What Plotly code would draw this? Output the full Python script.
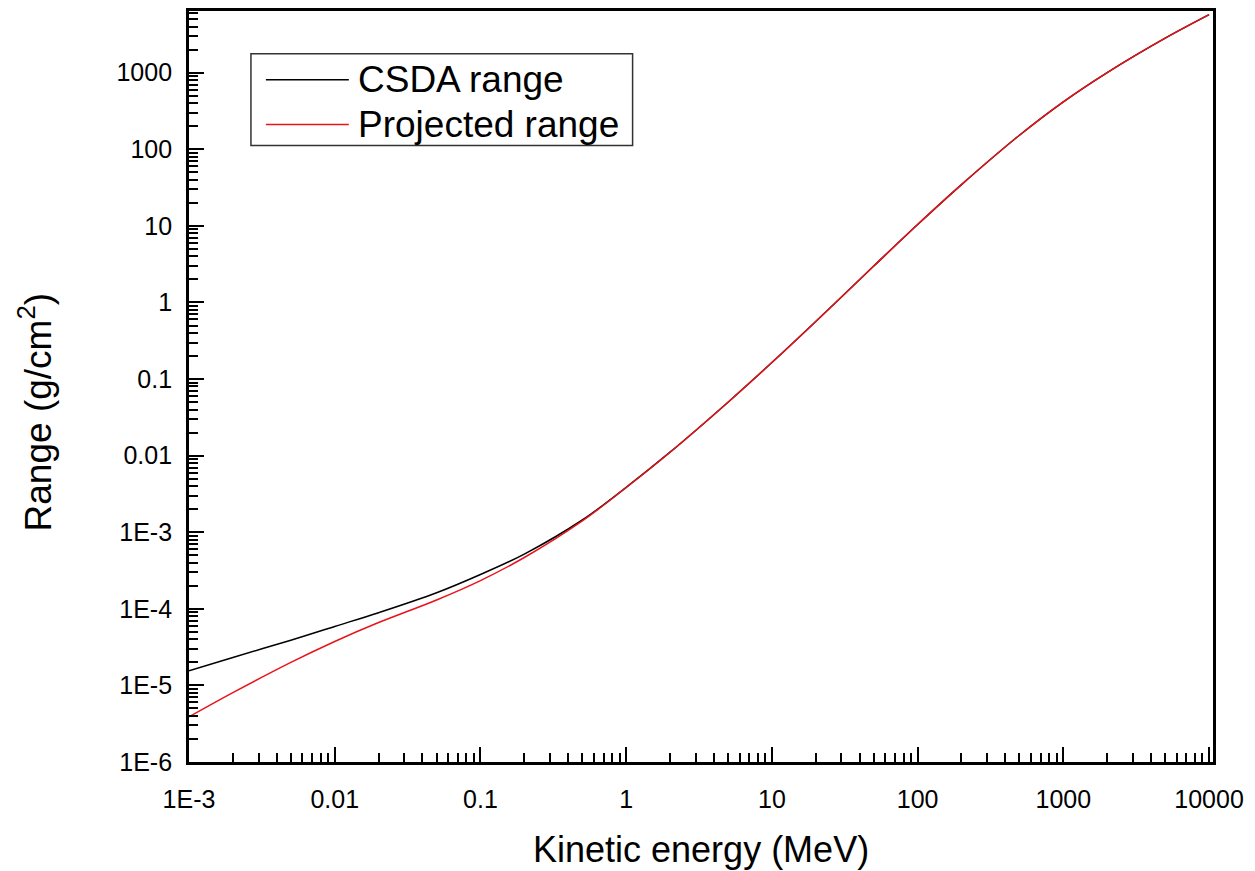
import plotly.graph_objects as go

# Kinetic energy (MeV)
energy = [0.001, 0.002, 0.005, 0.01, 0.02, 0.05, 0.1, 0.2, 0.5,
          1, 2, 5, 10, 20, 50, 100, 200, 500, 1000, 2000, 5000, 10000]

# CSDA range (g/cm^2)
csda_range = [1.55e-5, 2.32e-5, 3.89e-5, 5.89e-5, 8.91e-5, 1.622e-4, 2.81e-4, 5.19e-4, 1.445e-3,
              3.86e-3, 0.0111, 0.0499, 0.1645, 0.565, 2.99, 10.42, 34.6, 152.8, 417, 1005, 2831, 5741]

# Projected range (g/cm^2)
projected_range = [3.89e-6, 8.05e-6, 2.00e-5, 3.75e-5, 6.62e-5, 1.306e-4, 2.339e-4, 4.677e-4, 1.406e-3,
                   3.837e-3, 0.01109, 0.0499, 0.1644, 0.565, 2.99, 10.42, 34.6, 152.8, 417, 1005, 2831, 5741]

x_tickvals = [1e-3, 1e-2, 1e-1, 1, 10, 100, 1000, 10000]
x_ticktext = ["1E-3", "0.01", "0.1", "1", "10", "100", "1000", "10000"]
y_tickvals = [1e-6, 1e-5, 1e-4, 1e-3, 1e-2, 1e-1, 1, 10, 100, 1000]
y_ticktext = ["1E-6", "1E-5", "1E-4", "1E-3", "0.01", "0.1", "1", "10", "100", "1000"]

series_names = ["CSDA range", "Projected range"]
series_colors = ["#000000", "#e8141a"]

x_minor = [m * 10.0 ** d for d in range(-3, 4) for m in range(2, 10)]
y_minor = [m * 10.0 ** d for d in range(-6, 4) for m in range(2, 10)]

FONT = "Liberation Sans, Arial, sans-serif"

fig = go.Figure()
fig.add_trace(go.Scatter(x=energy, y=csda_range, mode="lines", name=series_names[0],
                         line=dict(color=series_colors[0], width=1.5), line_shape="spline"))
fig.add_trace(go.Scatter(x=energy, y=projected_range, mode="lines", name=series_names[1],
                         line=dict(color=series_colors[1], width=1.5), line_shape="spline"))

axis_common = dict(
    type="log", showgrid=False, zeroline=False,
    showline=True, linecolor="black", linewidth=2.8, mirror=True,
    ticks="inside", ticklen=15, tickwidth=2, tickcolor="black",
    tickfont=dict(family=FONT, size=25, color="black"),
    tickmode="array",
)

fig.update_xaxes(**axis_common, range=[-3, 4.027], tickvals=x_tickvals, ticktext=x_ticktext,
                 ticklabelstandoff=13,
                 minor=dict(tickmode="array", tickvals=x_minor, ticks="inside", ticklen=9,
                            tickwidth=1.5, tickcolor="black", showgrid=False))
fig.update_yaxes(**axis_common, range=[-6, 3.806], tickvals=y_tickvals, ticktext=y_ticktext,
                 ticklabelstandoff=9,
                 minor=dict(tickmode="array", tickvals=y_minor, ticks="inside", ticklen=9,
                            tickwidth=1.5, tickcolor="black", showgrid=False))

# Axis titles
fig.add_annotation(text="Kinetic energy (MeV)", xref="paper", yref="paper",
                   x=0.5, y=-0.117, xanchor="center", yanchor="middle", showarrow=False,
                   font=dict(family=FONT, size=36, color="black"))
fig.add_annotation(text="Range (g/cm<sup>2</sup>)", xref="paper", yref="paper",
                   x=-0.150, y=0.466, xanchor="center", yanchor="middle", showarrow=False,
                   textangle=-90, font=dict(family=FONT, size=37, color="black"))

# Legend box (drawn)
fig.add_shape(type="rect", xref="paper", yref="paper", x0=0.0605, x1=0.4332, y0=0.8210, y1=0.9430,
              line=dict(color="#333333", width=1.5), fillcolor="white", layer="above")
leg_y = [0.9085, 0.8488]
for name, color, yy in zip(series_names, series_colors, leg_y):
    fig.add_shape(type="line", xref="paper", yref="paper", x0=0.0751, x1=0.1561, y0=yy, y1=yy,
                  line=dict(color=color, width=1.5), layer="above")
    fig.add_annotation(text=name, xref="paper", yref="paper", x=0.163, y=yy,
                       xanchor="left", yanchor="middle", showarrow=False,
                       font=dict(family=FONT, size=37, color="black"))

fig.update_layout(
    width=1255, height=871,
    margin=dict(l=189, r=42, t=8, b=109),
    paper_bgcolor="white", plot_bgcolor="white",
    showlegend=False,
)

fig.write_html("out.html")
